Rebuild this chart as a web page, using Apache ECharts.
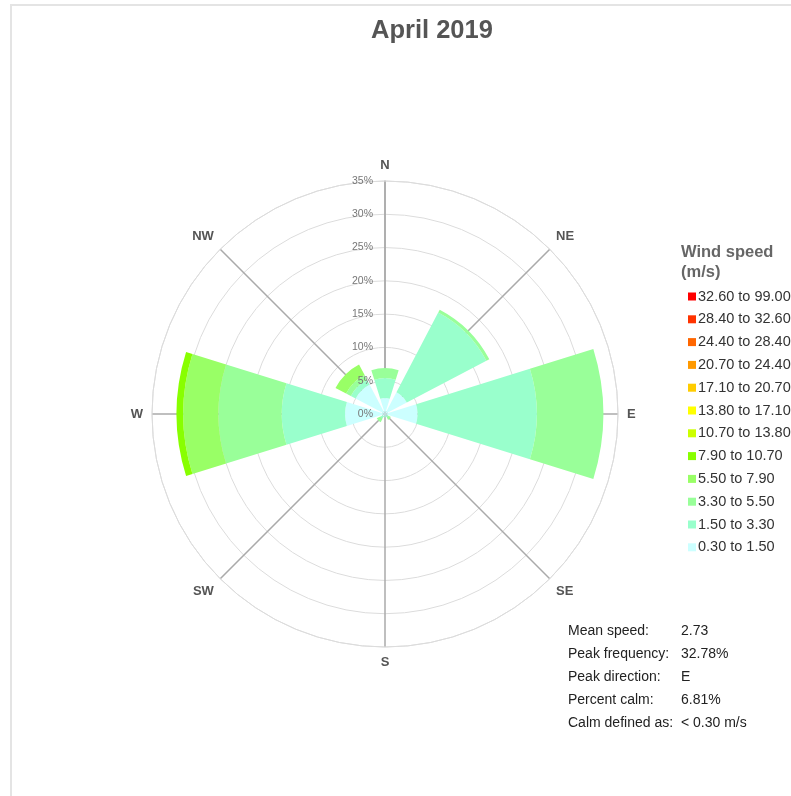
<!DOCTYPE html>
<html>
<head>
<meta charset="utf-8">
<script src="https://cdn.jsdelivr.net/npm/echarts@6/dist/echarts.min.js"></script>
<style>
html,body{margin:0;padding:0;background:#fff;}
#frame{position:absolute;left:10px;top:4px;width:790px;height:800px;border-left:2px solid #e4e4e4;border-top:2px solid #e4e4e4;}
#chart{position:absolute;left:0;top:0;width:791px;height:796px;}
</style>
</head>
<body>
<div id="frame"></div>
<div id="chart"></div>
<script>
var directions = ['N','NE','E','SE','S','SW','W','NW'];
var directionAngles = [0,45,90,135,180,225,270,315];
var radiusTicks = [0,5,10,15,20,25,30,35];
var speedBins = ['0.30 to 1.50','1.50 to 3.30','3.30 to 5.50','5.50 to 7.90','7.90 to 10.70','10.70 to 13.80','13.80 to 17.10','17.10 to 20.70','20.70 to 24.40','24.40 to 28.40','28.40 to 32.60','32.60 to 99.00'];
var binColors = ['#ccffff','#99ffcc','#99ff99','#99ff66','#88ff00','#ccff00','#ffff00','#ffcc00','#ff9900','#ff6600','#ff3300','#ff0000'];
// frequency (%) per direction [N, NE, E, SE, S, SW, W, NW]
var bin0  = [2.4, 3.7, 4.9, 0.3, 0.3, 0.4, 6.0, 5.0];
var bin1  = [3.0, 13.5, 17.9, 0.3, 0.2, 0.4, 9.5, 0.8];
var bin2  = [1.5, 0.5, 9.98, 0.4, 0.0, 0.6, 9.5, 0.8];
var bin3  = [0, 0, 0, 0, 0, 0, 5.3, 1.8];
var bin4  = [0, 0, 0, 0, 0, 0, 1.0, 0];
var bin5  = [0, 0, 0, 0, 0, 0, 0, 0];
var bin6  = [0, 0, 0, 0, 0, 0, 0, 0];
var bin7  = [0, 0, 0, 0, 0, 0, 0, 0];
var bin8  = [0, 0, 0, 0, 0, 0, 0, 0];
var bin9  = [0, 0, 0, 0, 0, 0, 0, 0];
var bin10 = [0, 0, 0, 0, 0, 0, 0, 0];
var bin11 = [0, 0, 0, 0, 0, 0, 0, 0];
var binValues = [bin0,bin1,bin2,bin3,bin4,bin5,bin6,bin7,bin8,bin9,bin10,bin11];
var statLabels = ['Mean speed:','Peak frequency:','Peak direction:','Percent calm:','Calm defined as:'];
var statValues = ['2.73','32.78%','E','6.81%','< 0.30 m/s'];

var FONT = 'Liberation Sans, Arial, sans-serif';
var chart = echarts.init(document.getElementById('chart'), null, {renderer:'canvas'});

var series = speedBins.map(function(name, i){
  return {
    name: name,
    type: 'bar',
    coordinateSystem: 'polar',
    polarIndex: 1,
    stack: 'wind',
    barCategoryGap: '23%',
    itemStyle: {color: binColors[i]},
    data: binValues[i],
    z: 5
  };
});

var hiddenAxis = {axisLine: {show: false}, axisTick: {show: false}, axisLabel: {show: false}, splitLine: {show: false}};

var option = {
  animation: false,
  textStyle: {fontFamily: FONT},
  title: [
    {text: 'April 2019', left: 371, top: 18, padding: 0, textStyle: {fontSize: 25.5, fontWeight: 'bold', color: '#555', fontFamily: FONT}},
    {text: 'Wind speed\n(m/s)', left: 681, top: 242, padding: 0, textStyle: {fontSize: 16.5, fontWeight: 'bold', color: '#666', lineHeight: 20, fontFamily: FONT}},
    {text: statLabels.join('\n'), left: 568, top: 620, padding: 0, textStyle: {fontSize: 14, fontWeight: 'normal', color: '#222', lineHeight: 23, fontFamily: FONT}},
    {text: statValues.join('\n'), left: 681, top: 620, padding: 0, textStyle: {fontSize: 14, fontWeight: 'normal', color: '#222', lineHeight: 23, fontFamily: FONT}}
  ],
  legend: {
    orient: 'vertical',
    left: 688, top: 289, padding: 0,
    itemWidth: 8, itemHeight: 8, itemGap: 7.8,
    icon: 'rect',
    data: speedBins.slice().reverse(),
    textStyle: {fontSize: 14.5, color: '#333', fontFamily: FONT, lineHeight: 14, padding: [0,0,0,-3]},
    selectedMode: false
  },
  polar: [
    {center: [385, 414], radius: 233},
    {center: [385, 414], radius: 233},
    {center: [385, 414], radius: 233}
  ],
  angleAxis: [
    {
      polarIndex: 0, type: 'value', min: 0, max: 360, interval: 45, startAngle: 90, clockwise: true,
      axisLine: {show: true, lineStyle: {color: '#dcdcdc', width: 1}},
      axisTick: {show: false},
      splitLine: {show: true, lineStyle: {color: '#aaaaaa', width: 1.5}},
      axisLabel: {
        show: true, margin: 9, color: '#555', fontSize: 13, fontWeight: 'bold', fontFamily: FONT,
        formatter: function(v){ var k = directionAngles.indexOf(v); return (k >= 0 && v !== 360) ? directions[k] : ''; }
      },
      z: 1
    },
    Object.assign({polarIndex: 1, type: 'category', data: directions, startAngle: 112.5, clockwise: true, boundaryGap: true}, hiddenAxis),
    Object.assign({polarIndex: 2, type: 'value', min: 0, max: 360, startAngle: 90, clockwise: true}, hiddenAxis)
  ],
  radiusAxis: [
    {
      polarIndex: 0, type: 'value', min: 0, max: 35, interval: 5,
      axisLine: {show: true, lineStyle: {color: '#aaaaaa', width: 1.5}},
      axisTick: {show: false},
      splitLine: {show: true, lineStyle: {color: '#dcdcdc', width: 1}},
      axisLabel: {show: false},
      z: 1
    },
    Object.assign({polarIndex: 1, type: 'value', min: 0, max: 35}, hiddenAxis),
    {
      polarIndex: 2, type: 'value', min: 0, max: 35, interval: 5,
      data: radiusTicks,
      axisLine: {show: false}, axisTick: {show: false}, splitLine: {show: false},
      axisLabel: {show: true, formatter: '{value}%', color: '#777', fontSize: 10.5, fontFamily: FONT, margin: 12, align: 'right'},
      z: 10
    }
  ],
  series: series
};
chart.setOption(option);
</script>
</body>
</html>
